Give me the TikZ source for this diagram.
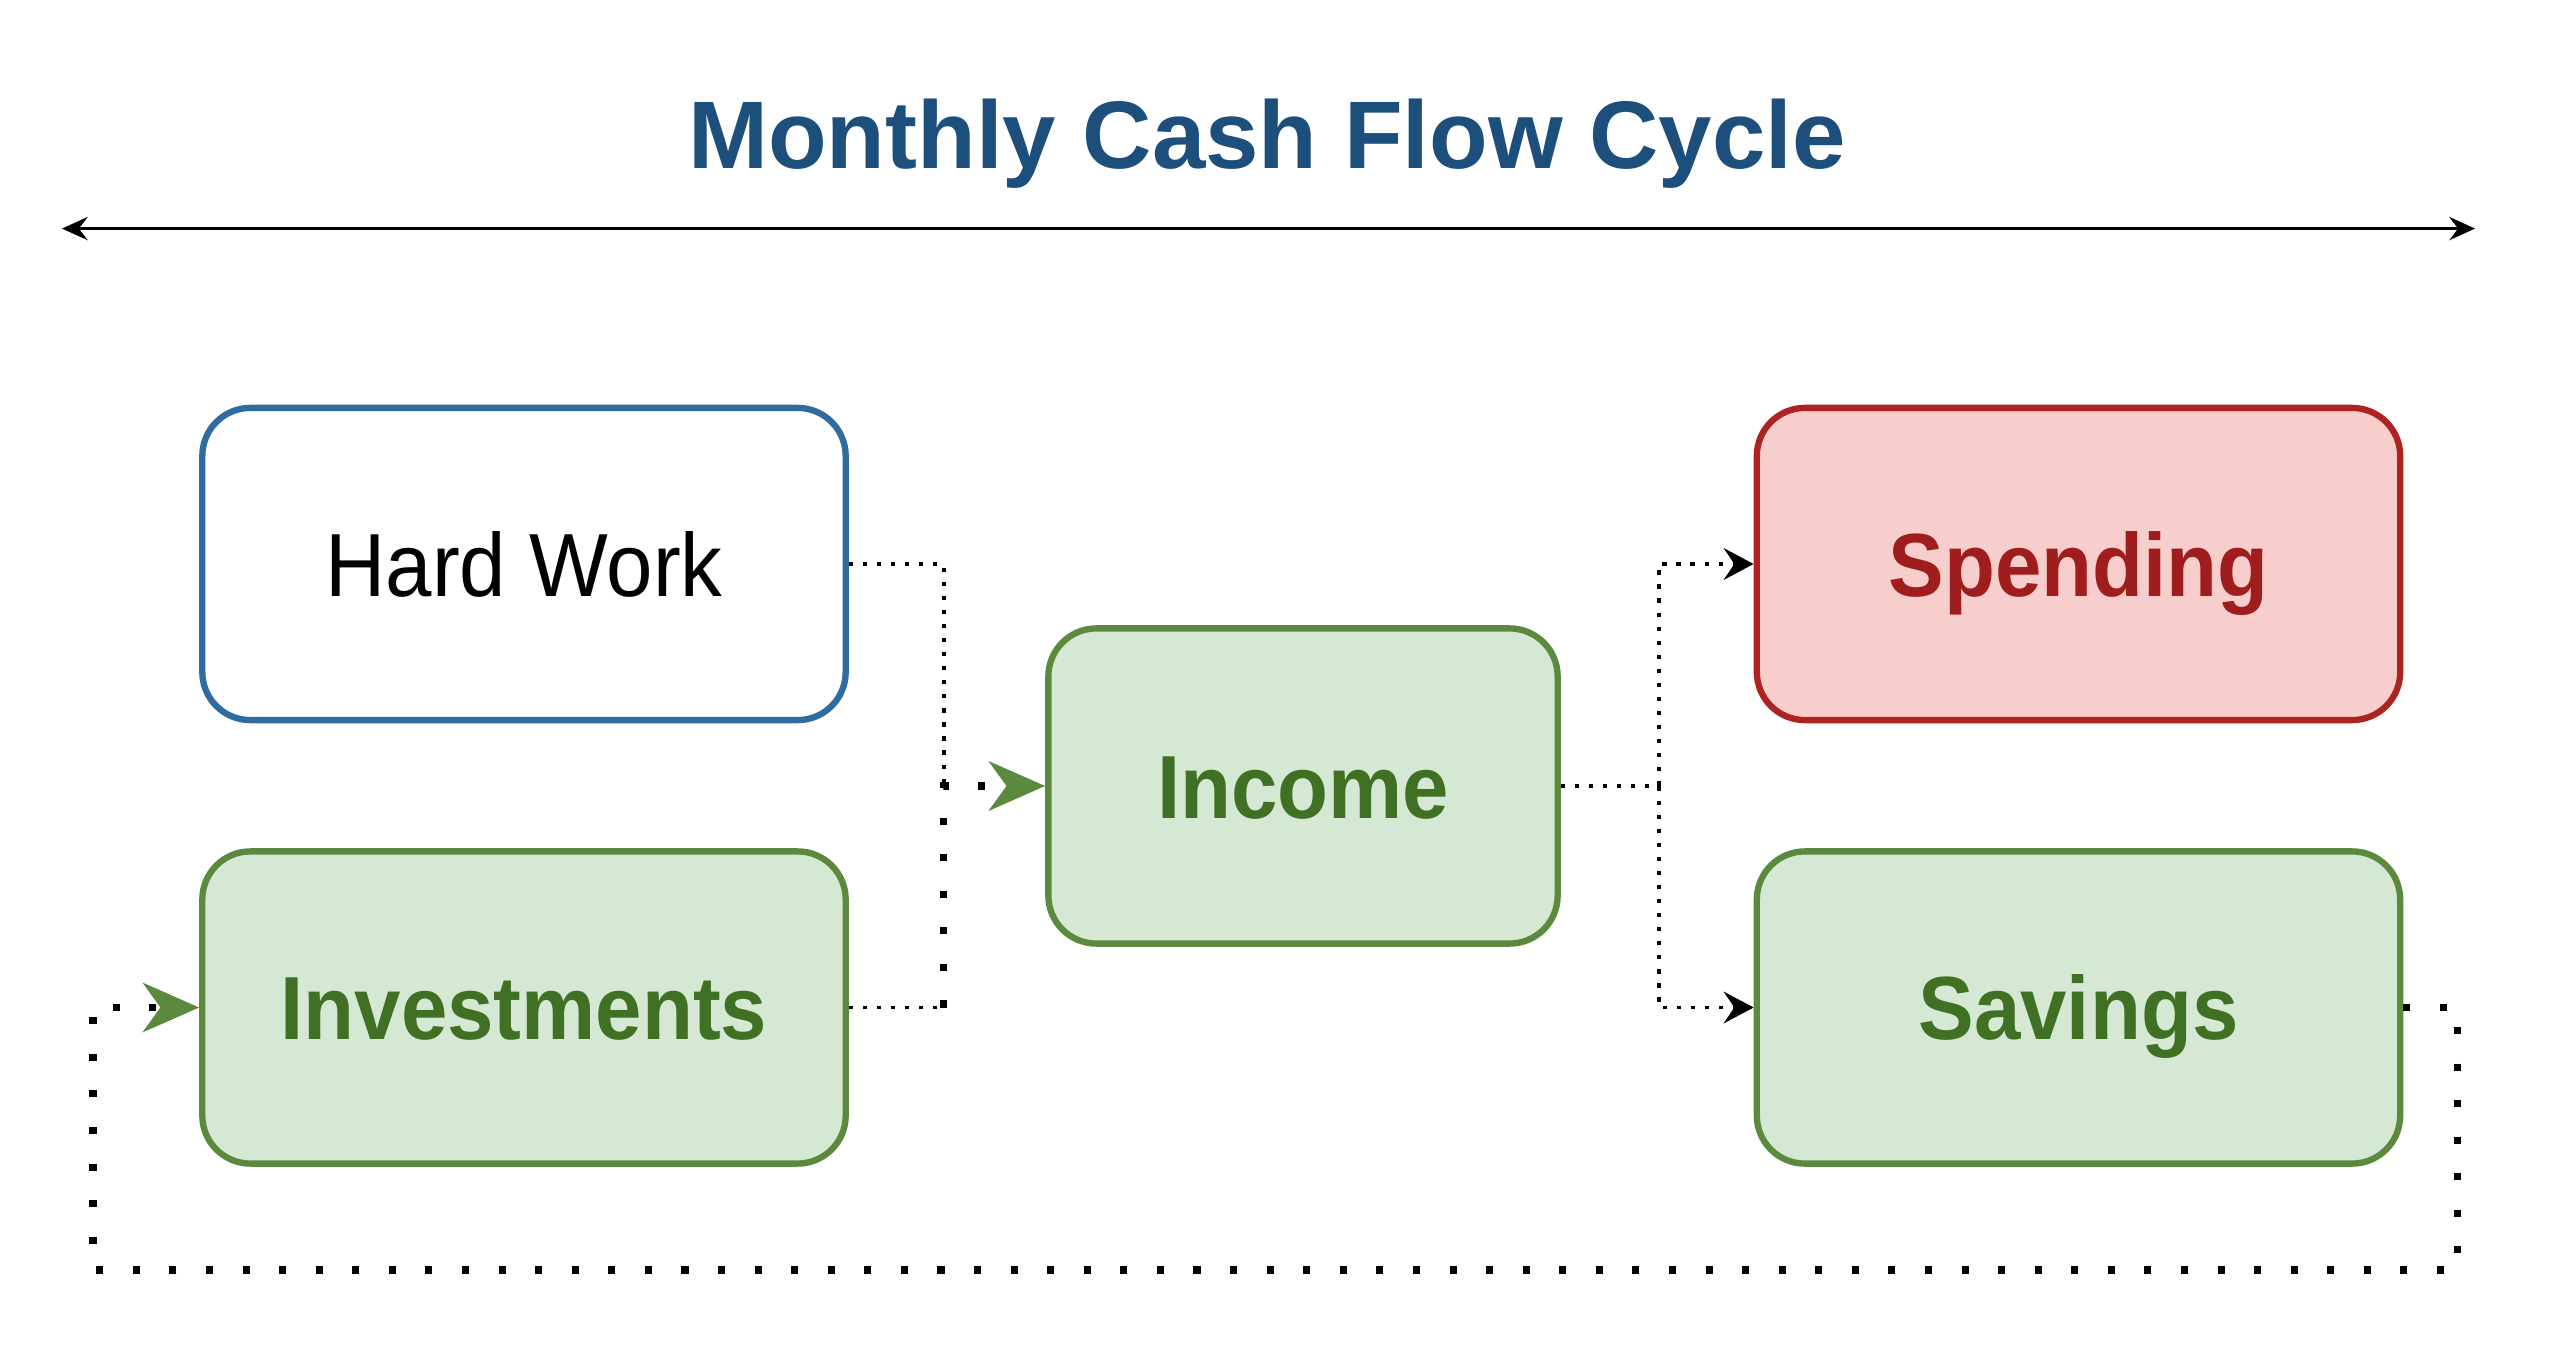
\documentclass[tikz,border=0pt]{standalone}
\usepackage{fontspec}
\setmainfont{Liberation Sans}
\newfontfamily\condfont[FakeStretch=0.93]{Liberation Sans}
\usetikzlibrary{arrows.meta}
\definecolor{titleblue}{HTML}{1D4F7C}
\definecolor{hwblue}{HTML}{2F6B9E}
\definecolor{grnB}{HTML}{5B8A3E}
\definecolor{grnF}{HTML}{D5E8D4}
\definecolor{grnT}{HTML}{3F7023}
\definecolor{redB}{HTML}{AE2222}
\definecolor{redF}{HTML}{F8CECC}
\definecolor{redT}{HTML}{A01D1D}
\tikzset{
  box/.style={rounded corners=0.48cm, line width=1.8pt, minimum width=6.43cm, minimum height=3.12cm, inner sep=0pt, align=center, text height=18.3pt, text depth=0pt, font=\condfont\fontsize{25.5}{30}\selectfont},
  hwbox/.style={box, draw=hwblue, fill=white, text=black},
  gbox/.style={box, draw=grnB, fill=grnF, text=grnT, font=\condfont\bfseries\fontsize{25.5}{30}\selectfont},
  rbox/.style={box, draw=redB, fill=redF, text=redT, font=\condfont\bfseries\fontsize{25.5}{30}\selectfont},
  thindot/.style={line width=1.1pt, dash pattern=on 1.2pt off 2.8pt, black},
  thickdot/.style={line width=2pt, dash pattern=on 2pt off 8.4pt, black},
  grnhead/.tip={Stealth[length=16pt, width=14pt, inset=5pt, color=grnB]},
  blkhead/.tip={Stealth[length=8.5pt, width=9pt, inset=3pt, color=black]},
  toptip/.tip={Stealth[length=7.3pt, width=6.6pt, inset=2.5pt, color=black]}
}
\begin{document}
\begin{tikzpicture}[x=0.01cm, y=-0.01cm]
\useasboundingbox[fill=white] (0,0) rectangle (2560,1355);

% title
\node[anchor=base, text=titleblue, font=\bfseries\fontsize{27.3}{32}\selectfont] (title) at (1267,169) {Monthly Cash Flow Cycle};

% top double arrow
\coordinate (tl) at (62,228.6);
\coordinate (tr) at (2475,228.6);
\draw[line width=0.75pt, {toptip}-{toptip}] (tl) -- (tr);

% boxes
\node[hwbox] (hw) at (524,564) {Hard Work};
\node[gbox] (inv) at (524,1007.5) {Investments};
\node[gbox, minimum width=5.09cm, minimum height=3.15cm] (inc) at (1303,786) {Income};
\node[rbox] (sp) at (2078.5,564) {Spending};
\node[gbox] (sav) at (2078.5,1007.5) {Savings};

% left junction
\coordinate (jl) at (943.7,786);
\coordinate (jlb) at (943.7,1007.5);
\draw[thindot] (hw.east) -| (jl);
\draw[thindot] (inv.east) -- (jlb);
\draw[thickdot, -{grnhead}] (jlb) |- (inc.west);

% right junction
\coordinate (jr) at (1658.8,786);
\draw[thindot, -{blkhead}] (inc.east) -- (jr) |- (sp.west);
\draw[thindot, -{blkhead}] (inc.east) -- (jr) |- (sav.west);

% loop back
\coordinate (lr) at (2457,1270);
\coordinate (ll) at (93,1270);
\draw[thickdot, -{grnhead}] (sav.east) -| (lr) -- (ll) |- (inv.west);
\end{tikzpicture}
\end{document}
